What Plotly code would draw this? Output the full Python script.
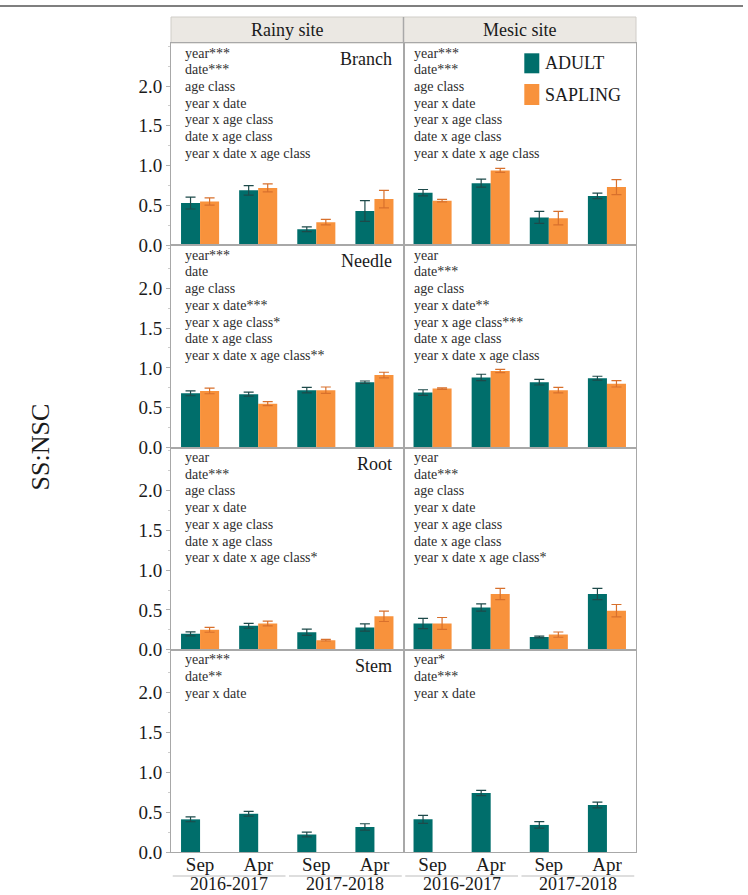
import plotly.graph_objects as go
from plotly.subplots import make_subplots

# ---------------- data ----------------
sites = ["Rainy site", "Mesic site"]
organs = ["Branch", "Needle", "Root", "Stem"]
dates = ["Sep", "Apr", "Sep", "Apr"]
years = ["2016-2017", "2017-2018"]
y_ticks = [0.0, 0.5, 1.0, 1.5, 2.0]

branch_rainy_adult = [0.53, 0.69, 0.20, 0.43]
branch_rainy_adult_err = [0.075, 0.06, 0.03, 0.13]
branch_rainy_sapling = [0.55, 0.72, 0.29, 0.58]
branch_rainy_sapling_err = [0.045, 0.05, 0.035, 0.11]
branch_mesic_adult = [0.66, 0.78, 0.35, 0.62]
branch_mesic_adult_err = [0.04, 0.05, 0.075, 0.035]
branch_mesic_sapling = [0.56, 0.94, 0.34, 0.73]
branch_mesic_sapling_err = [0.015, 0.025, 0.085, 0.095]

needle_rainy_adult = [0.68, 0.67, 0.72, 0.82]
needle_rainy_adult_err = [0.03, 0.025, 0.035, 0.015]
needle_rainy_sapling = [0.71, 0.55, 0.72, 0.91]
needle_rainy_sapling_err = [0.035, 0.025, 0.04, 0.035]
needle_mesic_adult = [0.69, 0.88, 0.82, 0.87]
needle_mesic_adult_err = [0.035, 0.04, 0.035, 0.025]
needle_mesic_sapling = [0.74, 0.96, 0.72, 0.80]
needle_mesic_sapling_err = [0.01, 0.02, 0.035, 0.04]

root_rainy_adult = [0.20, 0.30, 0.22, 0.28]
root_rainy_adult_err = [0.025, 0.03, 0.04, 0.045]
root_rainy_sapling = [0.25, 0.33, 0.12, 0.42]
root_rainy_sapling_err = [0.03, 0.03, 0.01, 0.065]
root_mesic_adult = [0.33, 0.53, 0.16, 0.70]
root_mesic_adult_err = [0.065, 0.045, 0.01, 0.07]
root_mesic_sapling = [0.33, 0.70, 0.19, 0.49]
root_mesic_sapling_err = [0.075, 0.07, 0.033, 0.078]

stem_rainy_adult = [0.41, 0.48, 0.22, 0.315]
stem_rainy_adult_err = [0.03, 0.03, 0.03, 0.04]
stem_mesic_adult = [0.41, 0.74, 0.34, 0.59]
stem_mesic_adult_err = [0.05, 0.033, 0.041, 0.037]
stem_sapling = [None, None, None, None]
stem_sapling_err = [0, 0, 0, 0]

stats_branch_rainy = ["year***", "date***", "age class", "year x date", "year x age class",
                      "date x age class", "year x date x age class"]
stats_branch_mesic = ["year***", "date***", "age class", "year x date", "year x age class",
                      "date x age class", "year x date x age class"]
stats_needle_rainy = ["year***", "date", "age class", "year x date***", "year x age class*",
                      "date x age class", "year x date x age class**"]
stats_needle_mesic = ["year", "date***", "age class", "year x date**", "year x age class***",
                      "date x age class", "year x date x age class"]
stats_root_rainy = ["year", "date***", "age class", "year x date", "year x age class",
                    "date x age class", "year x date x age class*"]
stats_root_mesic = ["year", "date***", "age class", "year x date", "year x age class",
                    "date x age class", "year x date x age class*"]
stats_stem_rainy = ["year***", "date**", "year x date"]
stats_stem_mesic = ["year*", "date***", "year x date"]

panels = {
    ("Branch", 0): (branch_rainy_adult, branch_rainy_adult_err, branch_rainy_sapling, branch_rainy_sapling_err, stats_branch_rainy),
    ("Branch", 1): (branch_mesic_adult, branch_mesic_adult_err, branch_mesic_sapling, branch_mesic_sapling_err, stats_branch_mesic),
    ("Needle", 0): (needle_rainy_adult, needle_rainy_adult_err, needle_rainy_sapling, needle_rainy_sapling_err, stats_needle_rainy),
    ("Needle", 1): (needle_mesic_adult, needle_mesic_adult_err, needle_mesic_sapling, needle_mesic_sapling_err, stats_needle_mesic),
    ("Root", 0): (root_rainy_adult, root_rainy_adult_err, root_rainy_sapling, root_rainy_sapling_err, stats_root_rainy),
    ("Root", 1): (root_mesic_adult, root_mesic_adult_err, root_mesic_sapling, root_mesic_sapling_err, stats_root_mesic),
    ("Stem", 0): (stem_rainy_adult, stem_rainy_adult_err, stem_sapling, stem_sapling_err, stats_stem_rainy),
    ("Stem", 1): (stem_mesic_adult, stem_mesic_adult_err, stem_sapling, stem_sapling_err, stats_stem_mesic),
}

# ---------------- style ----------------
FONT = "Liberation Serif"
TEAL = "#006e6b"
ORANGE = "#f8923c"
TEAL_ERR = "#1d4a4a"
ORANGE_ERR = "#d8702c"
FRAME = "#a8a8a8"
TEXT = "#2e2e2e"

W, H = 748, 895
ML, MR, MT, MB = 171, 112, 43, 43
PW, PH = W - ML - MR, H - MT - MB
ROW_H = PH / 4.0

def px_x(p):
    return (p - ML) / PW

def px_y(p):
    return (H - MB - p) / PH

fig = make_subplots(rows=4, cols=2, horizontal_spacing=0, vertical_spacing=0)

xpos = list(range(len(dates)))
for r, organ in enumerate(organs):
    for c in range(2):
        a, ae, s, se, stats = panels[(organ, c)]
        fig.add_trace(go.Bar(x=xpos, y=a, name="ADULT", marker=dict(color=TEAL, line=dict(width=0)),
                             error_y=dict(type="data", array=ae, visible=True, color=TEAL_ERR,
                                          thickness=1.2, width=5),
                             showlegend=False), row=r + 1, col=c + 1)
        fig.add_trace(go.Bar(x=xpos, y=s, name="SAPLING", marker=dict(color=ORANGE, line=dict(width=0)),
                             error_y=dict(type="data", array=se, visible=True, color=ORANGE_ERR,
                                          thickness=1.2, width=5),
                             showlegend=False), row=r + 1, col=c + 1)

        idx = r * 2 + c + 1
        suf = "" if idx == 1 else str(idx)
        xd = "x%s domain" % suf
        yd = "y%s domain" % suf
        # stats text lines
        x0 = 0.05 if c == 0 else 0.038
        for i, line in enumerate(stats):
            fig.add_annotation(x=x0, y=1 - (10 + i * 16.7) / ROW_H, xref=xd, yref=yd,
                               text=line, showarrow=False, xanchor="left", yanchor="middle",
                               font=dict(family=FONT, size=14, color=TEXT))
        # organ label
        if c == 0:
            fig.add_annotation(x=0.957, y=1 - 16 / ROW_H, xref=xd, yref=yd, text=organ,
                               showarrow=False, xanchor="right", yanchor="middle",
                               font=dict(family=FONT, size=18, color="#1a1a1a"))

fig.update_layout(barmode="group", bargap=0.345, bargroupgap=0)

for r in range(4):
    for c in range(2):
        fig.update_xaxes(row=r + 1, col=c + 1, range=[-0.5, 3.5], tickvals=xpos,
                         ticktext=dates, showticklabels=(r == 3), ticks="",
                         ticklabelstandoff=-5,
                         showline=True, mirror=True, linecolor=FRAME, linewidth=1,
                         showgrid=False, zeroline=False,
                         tickfont=dict(family=FONT, size=19, color="#1a1a1a"))
        fig.update_yaxes(row=r + 1, col=c + 1, range=[0, 2.54], tickvals=y_ticks,
                         tickformat=".1f", showticklabels=(c == 0),
                         ticks="outside" if c == 0 else "", ticklen=4, tickcolor="#b0b0b0",
                         minor=dict(dtick=0.25, ticks="outside" if c == 0 else "", ticklen=2,
                                    tickcolor="#cccccc"),
                         showline=True, mirror=True, linecolor=FRAME, linewidth=1,
                         showgrid=False, zeroline=False,
                         tickfont=dict(family=FONT, size=19, color="#1a1a1a"))

# header strip
hdr_top = px_y(17)
fig.add_shape(type="rect", xref="paper", yref="paper", x0=0, x1=1, y0=1, y1=hdr_top,
              fillcolor="#ebe8e3", line=dict(color="#d0cdc8", width=1), layer="below")
fig.add_shape(type="line", xref="paper", yref="paper", x0=0.5, x1=0.5, y0=1, y1=hdr_top,
              line=dict(color=FRAME, width=1.5))
for c, site in enumerate(sites):
    fig.add_annotation(x=0.25 + 0.5 * c, y=(1 + hdr_top) / 2, xref="paper", yref="paper",
                       text=site, showarrow=False, xanchor="center", yanchor="middle",
                       font=dict(family=FONT, size=18, color="#1a1a1a"))

# top rule
fig.add_shape(type="line", xref="paper", yref="paper", x0=px_x(0), x1=px_x(743),
              y0=px_y(6), y1=px_y(6), line=dict(color="#555555", width=1.5))

# y-axis title
fig.add_annotation(x=px_x(40), y=0.5, xref="paper", yref="paper", text="SS:NSC",
                   textangle=-90, showarrow=False, xanchor="center", yanchor="middle",
                   font=dict(family=FONT, size=26, color="#1a1a1a"))

# year labels and brackets under the bottom row
for c in range(2):
    xa = "x%d" % (7 + c)
    for k, yr in enumerate(years):
        fig.add_annotation(x=0.5 + 2 * k, y=px_y(884), xref=xa, yref="paper", text=yr,
                           showarrow=False, xanchor="center", yanchor="middle",
                           font=dict(family=FONT, size=18, color="#1a1a1a"))
        fig.add_shape(type="line", xref=xa, yref="paper", x0=2 * k - 0.47, x1=2 * k + 1.47,
                      y0=px_y(876), y1=px_y(876), line=dict(color="#bdbdbd", width=1))

# legend (manual, inside Mesic/Branch panel)
leg_items = [("ADULT", TEAL, 53.3, 73.3), ("SAPLING", ORANGE, 84, 105)]
ptop = MT
for name, col, t, b in leg_items:
    fig.add_shape(type="rect", xref="x2 domain", yref="y2 domain",
                  x0=(524.3 - 403.5) / (PW / 2), x1=(539.3 - 403.5) / (PW / 2),
                  y0=1 - (b - ptop) / ROW_H, y1=1 - (t - ptop) / ROW_H,
                  fillcolor=col, line=dict(width=0))
    fig.add_annotation(x=(542.5 - 403.5) / (PW / 2), y=1 - ((t + b) / 2 - ptop) / ROW_H,
                       xref="x2 domain", yref="y2 domain", text=name, showarrow=False,
                       xanchor="left", yanchor="middle",
                       font=dict(family=FONT, size=18, color="#1a1a1a"))

fig.update_layout(width=W, height=H, margin=dict(l=ML, r=MR, t=MT, b=MB),
                  plot_bgcolor="white", paper_bgcolor="white",
                  font=dict(family=FONT, color="#1a1a1a"), showlegend=False)

fig.write_html("out.html", config={"displayModeBar": False},
               post_script="document.body.style.margin='0px';")
